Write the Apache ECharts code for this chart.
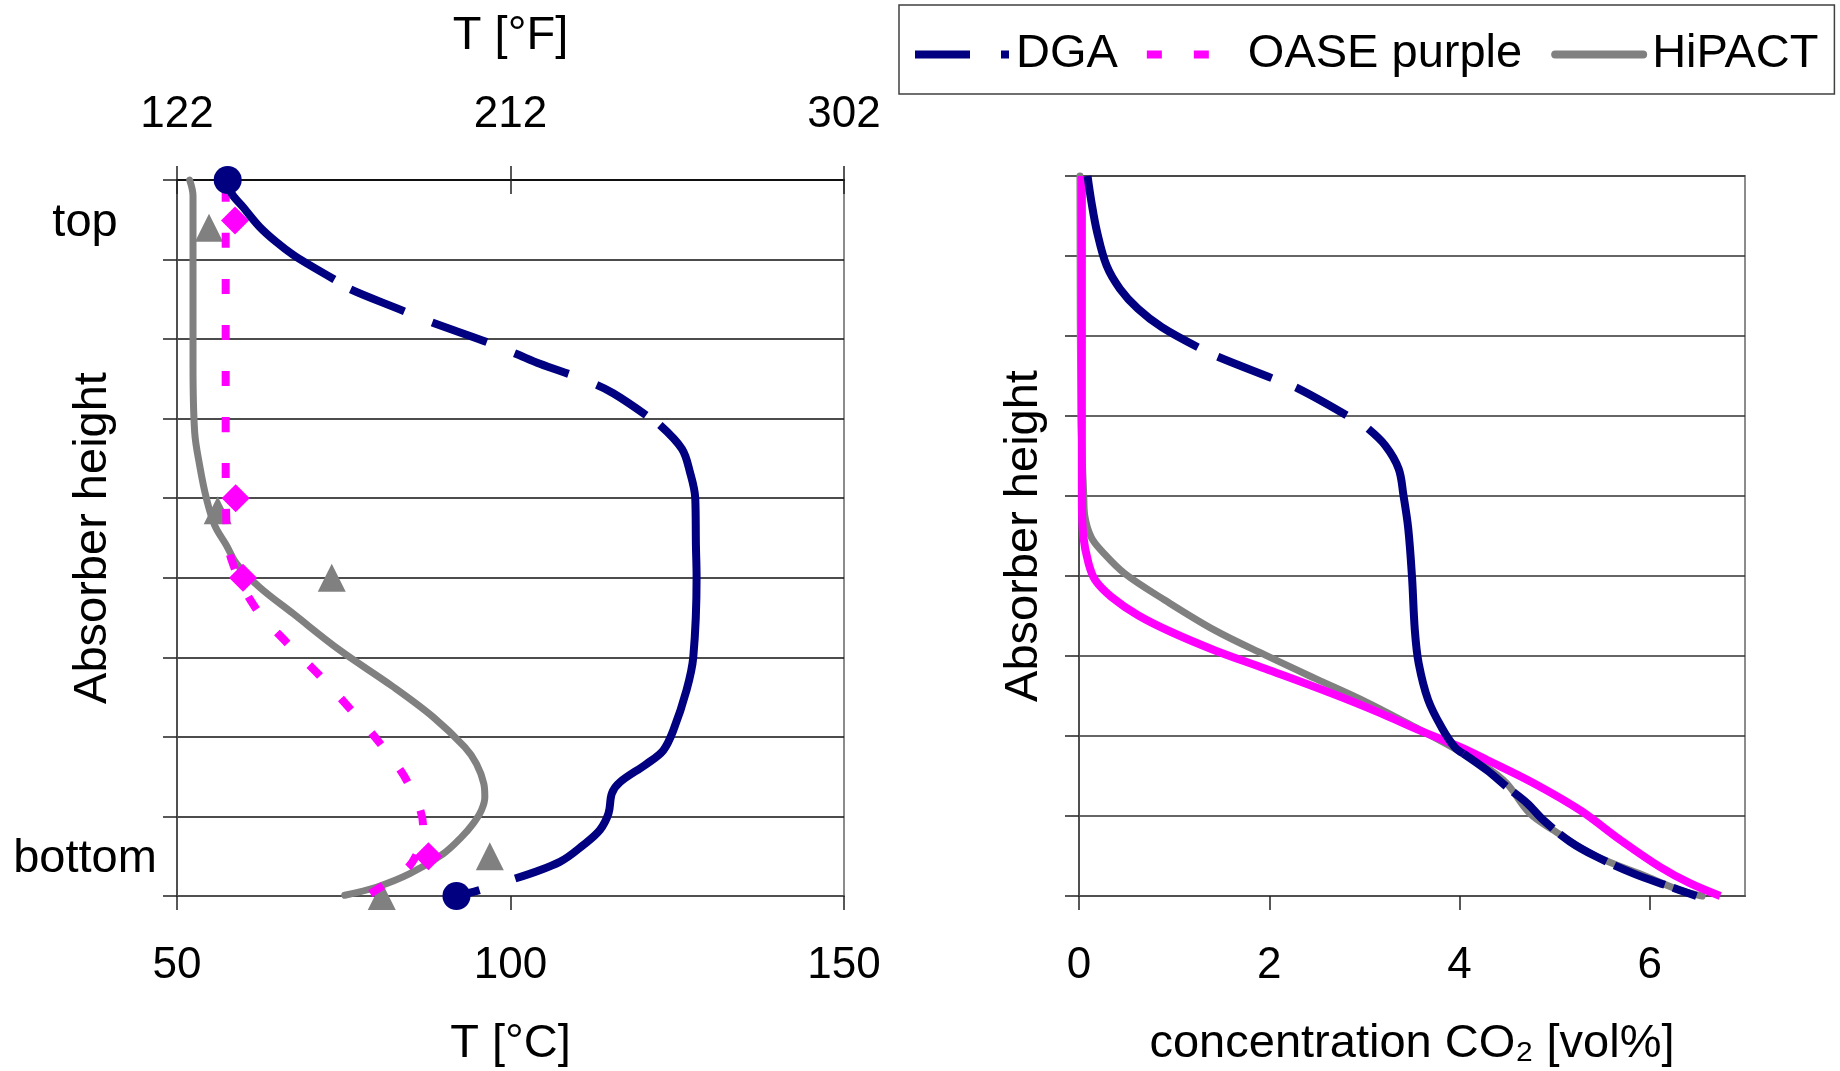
<!DOCTYPE html>
<html><head><meta charset="utf-8">
<script src="https://cdn.jsdelivr.net/npm/echarts@6/dist/echarts.min.js"></script>
<style>html,body{margin:0;padding:0;background:#fff}#chart{width:1840px;height:1071px}</style>
</head><body><div id="chart"></div>
<script>
// ---------------- data ----------------
const legendNames = ['DGA', 'OASE purple', 'HiPACT'];
const tempTicksC = [50, 100, 150];
const tempTicksF = [122, 212, 302];
const co2Ticks = [0, 2, 4, 6];
const heightLabels = ['bottom', 'top'];
const heightLabelPos = [0.46, 8.46];

// Left panel: temperature profiles (T in °C, height 0 = bottom … 9 = top)
const dgaTempT = [57.6, 58.2, 59.9, 62.4, 64.9, 67.4, 69.9, 73.6, 75.9, 83.2, 87.9, 95.9, 100.7, 104.4, 110.7, 115.4, 122.4, 125.7, 126.9, 127.7, 127.8, 127.9, 127.4, 126.4, 124.4, 122.9, 120.4, 116.4, 115.2, 114.7, 113.4, 110.9, 107.4, 100.7, 95.2, 91.9];
const dgaTempH = [9.0, 8.83, 8.66, 8.41, 8.22, 8.06, 7.93, 7.75, 7.63, 7.38, 7.22, 6.98, 6.82, 6.69, 6.50, 6.32, 5.92, 5.62, 5.33, 5.0, 4.41, 4.01, 3.0, 2.59, 2.08, 1.83, 1.66, 1.43, 1.29, 1.04, 0.83, 0.64, 0.43, 0.22, 0.07, 0.0];
const oaseTempT = [57.3, 57.3, 57.4, 58.2, 61.7, 66.4, 71.4, 76.2, 80.7, 84.7, 86.9, 86.9, 86.2, 84.4, 78.4];
const oaseTempH = [9.0, 5.5, 4.7, 4.22, 3.63, 3.19, 2.77, 2.33, 1.89, 1.41, 0.87, 0.78, 0.57, 0.34, 0.0];
const hipactTempT = [51.9, 52.4, 52.4, 52.4, 52.65, 53.4, 54.4, 55.65, 57.4, 58.9, 62.4, 67.4, 74.4, 82.4, 88.4, 93.15, 94.9, 96.0, 96.15, 95.65, 94.4, 92.65, 89.9, 84.9, 79.9, 75.15];
const hipactTempH = [9.0, 8.8, 7.9, 6.7, 5.83, 5.41, 5.0, 4.66, 4.41, 4.18, 3.88, 3.55, 3.09, 2.63, 2.25, 1.87, 1.66, 1.41, 1.24, 1.08, 0.91, 0.74, 0.53, 0.28, 0.11, 0.01];

// measured points
const dgaMeasT = [57.6, 91.9];
const dgaMeasH = [9.0, 0.0];
const oaseMeasT = [58.7, 58.8, 59.9, 87.7];
const oaseMeasH = [8.49, 5.0, 4.0, 0.5];
const hipactMeasT = [54.8, 56.1, 73.2, 96.9, 80.7];
const hipactMeasH = [8.4, 4.85, 4.0, 0.5, 0.0];

// Right panel: CO2 concentration profiles (vol%)
const dgaCo2C = [0.09, 0.13, 0.19, 0.29, 0.43, 0.62, 0.87, 1.25, 1.46, 1.99, 2.31, 2.87, 3.04, 3.22, 3.36, 3.41, 3.46, 3.50, 3.53, 3.57, 3.67, 3.81, 3.95, 4.04, 4.29, 4.50, 4.71, 4.88, 5.16, 5.44, 5.83, 6.18, 6.49];
const dgaCo2H = [9.0, 8.68, 8.30, 7.88, 7.59, 7.34, 7.11, 6.86, 6.74, 6.49, 6.34, 5.97, 5.84, 5.63, 5.34, 5.01, 4.60, 3.99, 3.32, 2.91, 2.45, 2.11, 1.86, 1.78, 1.57, 1.36, 1.16, 0.95, 0.68, 0.49, 0.28, 0.13, 0.0];
const oaseCo2C = [0.03, 0.03, 0.03, 0.045, 0.10, 0.17, 0.34, 0.62, 0.97, 1.43, 1.96, 2.66, 3.18, 3.58, 4.01, 4.29, 4.78, 5.27, 5.69, 6.11, 6.42, 6.74];
const oaseCo2H = [9.0, 6.0, 4.97, 4.5, 4.16, 3.95, 3.74, 3.51, 3.30, 3.07, 2.84, 2.53, 2.28, 2.07, 1.86, 1.70, 1.41, 1.07, 0.70, 0.36, 0.16, 0.0];
const hipactCo2C = [0.01, 0.02, 0.05, 0.06, 0.13, 0.24, 0.48, 0.90, 1.43, 1.96, 2.48, 3.01, 3.53, 4.01, 4.46, 4.74, 4.99, 5.41, 5.97, 6.32, 6.55];
const hipactCo2H = [9.0, 6.0, 5.0, 4.76, 4.48, 4.31, 4.03, 3.70, 3.32, 3.01, 2.72, 2.43, 2.11, 1.80, 1.45, 1.03, 0.82, 0.51, 0.24, 0.07, 0.0];

// ---------------- build ----------------
const FONT = "'Liberation Sans', Arial, Helvetica, sans-serif";
const NAVY = '#000080', MAGENTA = '#FF00FF', GRAY = '#808080';
const pairs = (xs, ys, a = 0, b = xs.length - 1) => { const o = []; for (let i = a; i <= b; i++) o.push([xs[i], ys[i]]); return o; };

function line(name, color, data, xi, yi, width, type, offset, cap, z) {
  return { type: 'line', name, data, xAxisIndex: xi, yAxisIndex: yi, color, symbol: 'none', smooth: 0.35,
    clip: false, silent: true, z, animation: false, emphasis: { disabled: true },
    lineStyle: { color, width, opacity: 1, type: type || 'solid', dashOffset: offset || 0, cap: cap || 'butt', join: 'round' } };
}
function marks(name, color, symbol, data, xi, yi, z) {
  return { type: 'scatter', name, data, xAxisIndex: xi, yAxisIndex: yi, color, symbol, symbolSize: 28,
    itemStyle: { color, opacity: 1 }, clip: false, silent: true, z, animation: false, emphasis: { disabled: true } };
}

const series = [
  // left panel
  line('HiPACT', GRAY, pairs(hipactTempT, hipactTempH), 0, 0, 7, 'solid', 0, 'round', 2),
  marks('HiPACT', GRAY, 'triangle', pairs(hipactMeasT, hipactMeasH), 0, 0, 3),
  line('OASE purple', MAGENTA, pairs(oaseTempT, oaseTempH), 0, 0, 8, [15, 31], 39, 'butt', 4),
  marks('OASE purple', MAGENTA, 'diamond', pairs(oaseMeasT, oaseMeasH), 0, 0, 5),
  line('DGA', NAVY, pairs(dgaTempT, dgaTempH, 0, 7), 0, 0, 8, 'solid', 0, 'butt', 6),
  line('DGA', NAVY, pairs(dgaTempT, dgaTempH, 7, 16), 0, 0, 8, [58, 30], 69, 'butt', 6),
  line('DGA', NAVY, pairs(dgaTempT, dgaTempH, 16, 33), 0, 0, 8, 'solid', 0, 'butt', 6),
  line('DGA', NAVY, pairs(dgaTempT, dgaTempH, 33, 35).reverse(), 0, 0, 8, [24, 60], 0, 'butt', 6),
  marks('DGA', NAVY, 'circle', pairs(dgaMeasT, dgaMeasH), 0, 0, 7),
  // right panel
  line('HiPACT', GRAY, pairs(hipactCo2C, hipactCo2H), 3, 1, 7, 'solid', 0, 'round', 2),
  line('OASE purple', MAGENTA, pairs(oaseCo2C, oaseCo2H), 3, 1, 8, 'solid', 0, 'butt', 4),
  line('DGA', NAVY, pairs(dgaCo2C, dgaCo2H, 0, 7), 3, 1, 8, 'solid', 0, 'butt', 6),
  line('DGA', NAVY, pairs(dgaCo2C, dgaCo2H, 7, 12), 3, 1, 8, [58, 26], 62, 'butt', 6),
  line('DGA', NAVY, pairs(dgaCo2C, dgaCo2H, 12, 23), 3, 1, 8, 'solid', 0, 'butt', 6),
  line('DGA', NAVY, pairs(dgaCo2C, dgaCo2H, 23, 32), 3, 1, 8, [54, 9], 0, 'butt', 6)
];

const AXIS_COL = '#505050';
const labelStyle = { fontSize: 44, fontFamily: FONT, color: '#000' };
const nameStyle = { fontSize: 47, fontFamily: FONT, color: '#000' };

const option = {
  backgroundColor: '#fff',
  animation: false,
  grid: [
    { left: 177, top: 180, width: 667, height: 716, show: true, borderColor: '#8c8c8c', borderWidth: 2, backgroundColor: 'transparent', outerBoundsMode: 'none', containLabel: false },
    { left: 1079, top: 176, width: 666, height: 720, show: true, borderColor: '#8c8c8c', borderWidth: 2, backgroundColor: 'transparent', outerBoundsMode: 'none', containLabel: false }
  ],
  legend: {
    left: 899, top: 5, padding: [26, 16, 16, 16], itemGap: 29, itemWidth: 96, itemHeight: 8,
    borderColor: '#404040', borderWidth: 1.5, selectedMode: false,
    itemStyle: { borderWidth: 0 },
    textStyle: { fontSize: 47, fontFamily: FONT, color: '#000' },
    data: [
      { name: legendNames[0], icon: 'path://M0 0H55V8H0Z M86 0H94V8H86Z M96 8Z' },
      { name: legendNames[1], icon: 'path://M0 0H15V8H0Z M47 0H62V8H47Z M96 8Z' },
      { name: legendNames[2], icon: 'path://M4 0H92A4 4 0 0 1 92 8H4A4 4 0 0 1 4 0Z' }
    ]
  },
  xAxis: [
    { // bottom °C
      gridIndex: 0, type: 'value', position: 'bottom', min: 50, max: 150, interval: 50,
      axisLine: { show: true, lineStyle: { color: AXIS_COL, width: 2 } },
      axisTick: { show: true, inside: false, length: 14, lineStyle: { color: '#222', width: 1.5 } },
      axisLabel: { ...labelStyle, margin: 48, formatter: v => String(tempTicksC[tempTicksC.indexOf(v)]) },
      splitLine: { show: false },
      name: 'T [°C]', nameLocation: 'middle', nameGap: 125, nameMoveOverlap: false, nameTextStyle: nameStyle
    },
    { // top °F
      gridIndex: 0, type: 'value', position: 'top', min: 50, max: 150, interval: 50,
      axisLine: { show: true, lineStyle: { color: '#111', width: 2 } },
      axisTick: { show: true, inside: false, length: 14, lineStyle: { color: '#222', width: 1.5 } },
      axisLabel: { ...labelStyle, margin: 43, formatter: v => String(tempTicksF[tempTicksC.indexOf(v)]) },
      splitLine: { show: false },
      name: 'T [°F]', nameLocation: 'middle', nameGap: 120, nameMoveOverlap: false, nameTextStyle: nameStyle
    },
    { // inner half of cross ticks on top axis
      gridIndex: 0, type: 'value', position: 'top', min: 50, max: 150, interval: 50,
      axisLine: { show: false }, axisLabel: { show: false }, splitLine: { show: false },
      axisTick: { show: true, inside: true, length: 14, lineStyle: { color: '#222', width: 1.5 } }
    },
    { // right panel CO2
      gridIndex: 1, type: 'value', position: 'bottom', min: 0, max: 7, interval: 1,
      axisLine: { show: true, lineStyle: { color: AXIS_COL, width: 2 } },
      axisTick: { show: true, inside: false, length: 14, customValues: co2Ticks, lineStyle: { color: '#222', width: 1.5 } },
      axisLabel: { ...labelStyle, margin: 48, customValues: co2Ticks },
      splitLine: { show: false },
      name: 'concentration CO₂ [vol%]', nameLocation: 'middle', nameGap: 125, nameMoveOverlap: false, nameTextStyle: nameStyle
    }
  ],
  yAxis: [
    {
      gridIndex: 0, type: 'value', position: 'left', min: 0, max: 9, interval: 1,
      axisLine: { show: true, lineStyle: { color: AXIS_COL, width: 2 } },
      axisTick: { show: true, inside: false, length: 14, lineStyle: { color: '#222', width: 1.5 } },
      axisLabel: { fontSize: 47, fontFamily: FONT, color: '#000', margin: 92, align: 'center',
        customValues: heightLabelPos, formatter: v => heightLabels[heightLabelPos.indexOf(v)] || '' },
      splitLine: { show: true, lineStyle: { color: '#111', width: 1.5 } },
      name: 'Absorber height', nameLocation: 'middle', nameGap: 60, nameRotate: 90, nameMoveOverlap: false, nameTextStyle: nameStyle
    },
    {
      gridIndex: 1, type: 'value', position: 'left', min: 0, max: 9, interval: 1,
      axisLine: { show: true, lineStyle: { color: AXIS_COL, width: 2 } },
      axisTick: { show: true, inside: false, length: 14, lineStyle: { color: '#222', width: 1.5 } },
      axisLabel: { show: false },
      splitLine: { show: true, lineStyle: { color: '#333', width: 1.5 } },
      name: 'Absorber height', nameLocation: 'middle', nameGap: 31, nameRotate: 90, nameMoveOverlap: false, nameTextStyle: nameStyle
    }
  ],
  series
};

const chart = echarts.init(document.getElementById('chart'), null, { renderer: 'canvas', width: 1840, height: 1071 });
chart.setOption(option);
</script>
</body></html>
